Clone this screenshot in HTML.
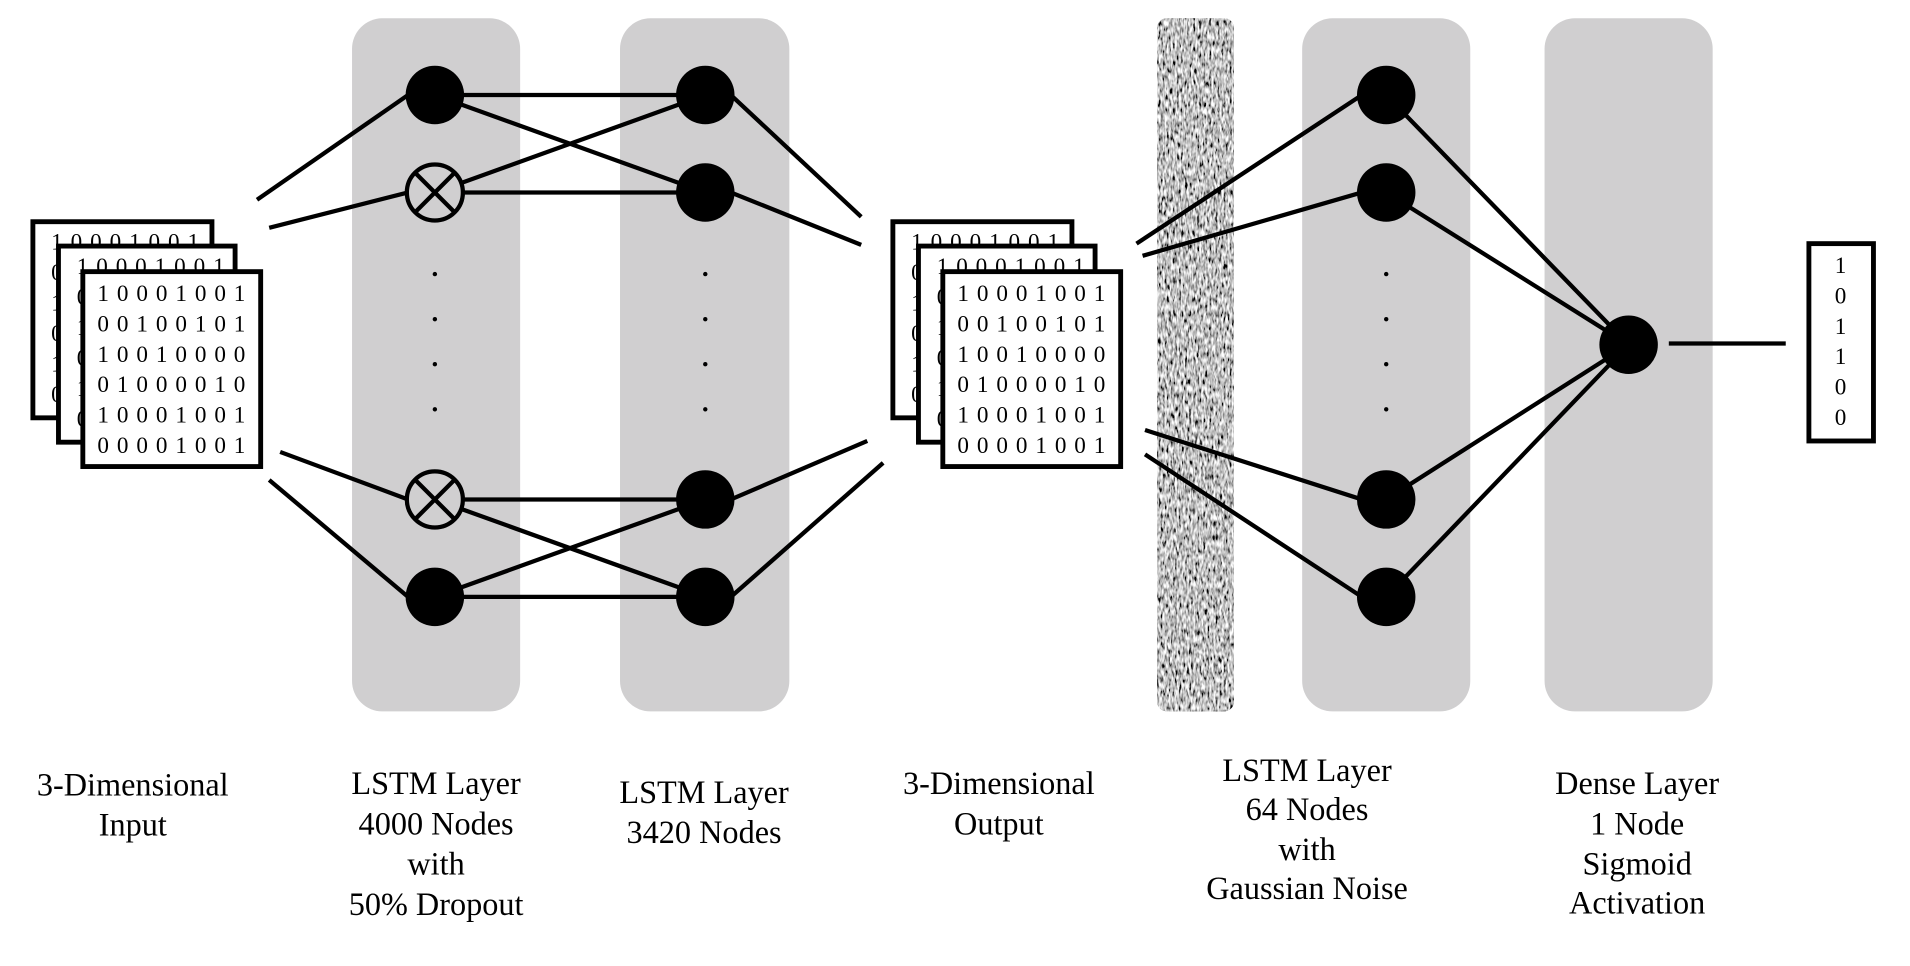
<!DOCTYPE html>
<html><head><meta charset="utf-8"><style>html,body{margin:0;padding:0;background:#fff}svg{display:block}</style></head>
<body>
<svg width="1910" height="966" viewBox="0 0 1568 793" preserveAspectRatio="none" xmlns="http://www.w3.org/2000/svg">
<defs>
<filter id="n" x="0" y="0" width="100%" height="100%">
<feTurbulence type="fractalNoise" baseFrequency="0.6 0.18" numOctaves="2" seed="3"/>
<feColorMatrix type="matrix" values="0.33 0.33 0.33 0 0  0.33 0.33 0.33 0 0  0.33 0.33 0.33 0 0  0 0 0 0 1"/>
<feComponentTransfer><feFuncR type="linear" slope="3.8" intercept="-1.35"/><feFuncG type="linear" slope="3.8" intercept="-1.35"/><feFuncB type="linear" slope="3.8" intercept="-1.35"/></feComponentTransfer>
</filter>
<clipPath id="c"><rect x="950" y="15" width="63" height="569" rx="8"/></clipPath>
</defs>
<g fill="#d0cfd0">
<rect x="289" y="15" width="138" height="569" rx="25"/>
<rect x="509" y="15" width="139" height="569" rx="25"/>
<rect x="1069" y="15" width="138" height="569" rx="25"/>
<rect x="1268" y="15" width="138" height="569" rx="25"/>
</g>
<g clip-path="url(#c)"><rect x="950" y="15" width="63" height="569" fill="#888"/><rect x="950" y="15" width="63" height="569" filter="url(#n)"/></g>
<g stroke="#000" stroke-width="3.5" fill="none">
<line x1="211" y1="164" x2="335" y2="78"/><line x1="221" y1="187" x2="335" y2="158"/>
<line x1="230" y1="371" x2="335" y2="410"/><line x1="221" y1="394" x2="335" y2="490"/>
<line x1="357" y1="78" x2="579" y2="78"/><line x1="357" y1="158" x2="579" y2="158"/>
<line x1="357" y1="410" x2="579" y2="410"/><line x1="357" y1="490" x2="579" y2="490"/>
<line x1="357" y1="78" x2="579" y2="158"/><line x1="357" y1="158" x2="579" y2="78"/>
<line x1="357" y1="410" x2="579" y2="490"/><line x1="357" y1="490" x2="579" y2="410"/>
<line x1="600" y1="78" x2="707" y2="178"/><line x1="600" y1="158" x2="707" y2="201"/>
<line x1="600" y1="410" x2="712" y2="362"/><line x1="600" y1="490" x2="725" y2="380"/>
<line x1="933" y1="200" x2="1118" y2="78"/><line x1="938" y1="210" x2="1118" y2="158"/>
<line x1="940" y1="353" x2="1118" y2="410"/><line x1="940" y1="373" x2="1118" y2="490"/>
<line x1="1138" y1="78" x2="1337" y2="283"/><line x1="1138" y1="158" x2="1337" y2="283"/>
<line x1="1138" y1="410" x2="1337" y2="283"/><line x1="1138" y1="490" x2="1337" y2="283"/>
<line x1="1370" y1="282" x2="1466" y2="282"/>
</g>
<g fill="#000">
<circle cx="357" cy="78" r="24"/><circle cx="357" cy="490" r="24"/>
<circle cx="579" cy="78" r="24"/><circle cx="579" cy="158" r="24"/><circle cx="579" cy="410" r="24"/><circle cx="579" cy="490" r="24"/>
<circle cx="1138" cy="78" r="24"/><circle cx="1138" cy="158" r="24"/><circle cx="1138" cy="410" r="24"/><circle cx="1138" cy="490" r="24"/>
<circle cx="1337" cy="283" r="24"/>
</g>
<g stroke="#000" stroke-width="3.5" fill="#d0cfd0">
<circle cx="357" cy="158" r="23"/><circle cx="357" cy="410" r="23"/>
<path d="M341 142 L373 174 M373 142 L341 174 M341 394 L373 426 M373 394 L341 426" fill="none"/>
</g>
<g fill="#000">
<circle cx="357" cy="225" r="1.8"/><circle cx="357" cy="262" r="1.8"/><circle cx="357" cy="299" r="1.8"/><circle cx="357" cy="336" r="1.8"/>
<circle cx="579" cy="225" r="1.8"/><circle cx="579" cy="262" r="1.8"/><circle cx="579" cy="299" r="1.8"/><circle cx="579" cy="336" r="1.8"/>
<circle cx="1138" cy="225" r="1.8"/><circle cx="1138" cy="262" r="1.8"/><circle cx="1138" cy="299" r="1.8"/><circle cx="1138" cy="336" r="1.8"/>
</g>
<g font-family="Liberation Serif, serif" font-size="19" letter-spacing="6.5">
<g id="stk">
<rect x="27" y="182" width="147" height="161" fill="#fff" stroke="#000" stroke-width="4"/>
<text x="42" y="205">10001001</text><text x="42" y="230">00100101</text><text x="42" y="255">10010000</text><text x="42" y="280">01000010</text><text x="42" y="305">10001001</text><text x="42" y="330">00001001</text>
<rect x="48" y="202" width="145" height="161" fill="#fff" stroke="#000" stroke-width="4"/>
<text x="63" y="225">10001001</text><text x="63" y="250">00100101</text><text x="63" y="275">10010000</text><text x="63" y="300">01000010</text><text x="63" y="325">10001001</text><text x="63" y="350">00001001</text>
<rect x="68" y="223" width="146" height="160" fill="#fff" stroke="#000" stroke-width="4"/>
<text x="80" y="247">10001001</text><text x="80" y="272">00100101</text><text x="80" y="297">10010000</text><text x="80" y="322">01000010</text><text x="80" y="347">10001001</text><text x="80" y="372">00001001</text>
</g>
<use href="#stk" x="706"/>
</g>
<rect x="1485" y="200" width="53" height="162" fill="#fff" stroke="#000" stroke-width="4"/>
<g font-family="Liberation Serif, serif" font-size="19" text-anchor="middle">
<text x="1511" y="224">1</text><text x="1511" y="249">0</text><text x="1511" y="274">1</text><text x="1511" y="299">1</text><text x="1511" y="324">0</text><text x="1511" y="349">0</text>
</g>
<g font-family="Liberation Serif, serif" font-size="26.5" text-anchor="middle" fill="#000">
<text x="109" y="653">3-Dimensional</text><text x="109" y="686">Input</text>
<text x="358" y="652">LSTM Layer</text><text x="358" y="685">4000 Nodes</text><text x="358" y="718">with</text><text x="358" y="751">50% Dropout</text>
<text x="578" y="659">LSTM Layer</text><text x="578" y="692">3420 Nodes</text>
<text x="820" y="652">3-Dimensional</text><text x="820" y="685">Output</text>
<text x="1073" y="641">LSTM Layer</text><text x="1073" y="673">64 Nodes</text><text x="1073" y="706">with</text><text x="1073" y="738">Gaussian Noise</text>
<text x="1344" y="652">Dense Layer</text><text x="1344" y="685">1 Node</text><text x="1344" y="718">Sigmoid</text><text x="1344" y="750">Activation</text>
</g>
</svg>
</body></html>
